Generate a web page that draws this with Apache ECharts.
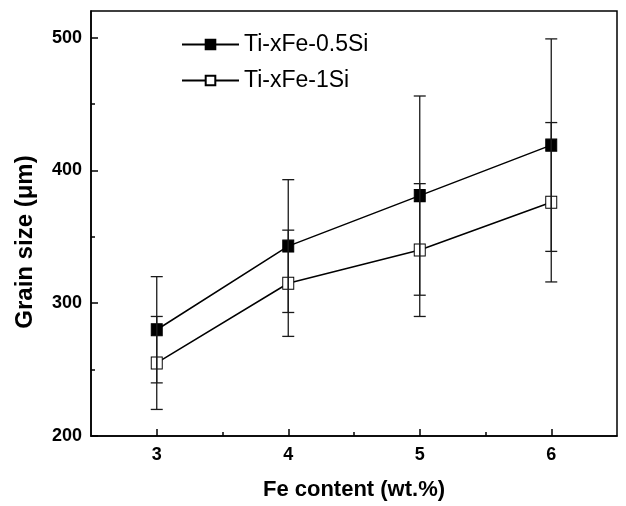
<!DOCTYPE html>
<html>
<head>
<meta charset="utf-8">
<script src="https://cdn.jsdelivr.net/npm/echarts@6/dist/echarts.min.js"></script>
<style>
  html, body { margin: 0; padding: 0; background: #fff; }
  #chart { width: 626px; height: 506px; }
</style>
</head>
<body>
<div id="chart"></div>
<script>
// Fe content (wt.%) on the x axis
const feContent = [3, 4, 5, 6];

// Mean grain size (µm) and error half-widths for each alloy
const series05Si = [280, 343, 381, 419];
const err05Si = [40, 50, 75, 80];
const series1Si = [255, 315, 340, 376];
const err1Si = [35, 40, 50, 60];

const seriesNames = ['Ti-xFe-0.5Si', 'Ti-xFe-1Si'];

// Tick positions
const xMajorTicks = [3, 4, 5, 6];
const xMinorTicks = [3.5, 4.5, 5.5];
const yMajorTicks = [200, 300, 400, 500];
const yMinorTicks = [250, 350, 450];

const FONT = '"Liberation Sans", Arial, Helvetica, sans-serif';

const chart = echarts.init(document.getElementById('chart'), null, { renderer: 'canvas' });

function pairs(xs, ys) {
  return xs.map((x, i) => [x, ys[i]]);
}
function errRows(xs, ys, es) {
  return xs.map((x, i) => [x, ys[i] - es[i], ys[i] + es[i]]);
}

// Vertical error bar with horizontal caps
function renderErrorBar(params, api) {
  const x = api.value(0);
  const lo = api.coord([x, api.value(1)]);
  const hi = api.coord([x, api.value(2)]);
  const half = 6;
  const style = { stroke: '#1a1a1a', lineWidth: 1.3 };
  return {
    type: 'group',
    children: [
      { type: 'line', shape: { x1: lo[0], y1: lo[1], x2: hi[0], y2: hi[1] }, style },
      { type: 'line', shape: { x1: lo[0] - half, y1: lo[1], x2: lo[0] + half, y2: lo[1] }, style },
      { type: 'line', shape: { x1: hi[0] - half, y1: hi[1], x2: hi[0] + half, y2: hi[1] }, style }
    ]
  };
}

const axisLineStyle = { color: '#000', width: 1.5 };
const labelStyle = { color: '#000', fontFamily: FONT, fontWeight: 'bold', fontSize: 18 };

const option = {
  backgroundColor: '#fff',
  animation: false,
  grid: {
    left: 91, right: 9, top: 11, bottom: 70,
    show: true, borderColor: '#000', borderWidth: 1.5, backgroundColor: 'transparent'
  },
  legend: {
    data: seriesNames,
    orient: 'vertical',
    left: 181,
    top: 32,
    padding: 0,
    itemWidth: 57,
    itemHeight: 12,
    itemGap: 11,
    textStyle: { color: '#000', fontFamily: FONT, fontSize: 23, lineHeight: 25 }
  },
  xAxis: [
    {
      type: 'value', min: 2.5, max: 6.5,
      axisLine: { show: true, onZero: false, lineStyle: axisLineStyle },
      axisTick: { show: true, inside: true, length: 7, lineStyle: { color: '#000', width: 1.5 }, customValues: xMajorTicks },
      axisLabel: { ...labelStyle, margin: 10, customValues: xMajorTicks },
      splitLine: { show: false },
      name: 'Fe content (wt.%)',
      nameLocation: 'middle',
      nameGap: 43,
      nameTextStyle: { color: '#000', fontFamily: FONT, fontWeight: 'bold', fontSize: 22 }
    },
    {
      type: 'value', min: 2.5, max: 6.5, position: 'bottom',
      axisLine: { show: false },
      axisTick: { show: true, inside: true, length: 4, lineStyle: { color: '#000', width: 1.5 }, customValues: xMinorTicks },
      axisLabel: { show: false },
      splitLine: { show: false }
    }
  ],
  yAxis: [
    {
      type: 'value', min: 200, max: 520,
      axisLine: { show: true, onZero: false, lineStyle: axisLineStyle },
      axisTick: { show: true, inside: true, length: 7, lineStyle: { color: '#000', width: 1.5 }, customValues: yMajorTicks },
      axisLabel: { ...labelStyle, margin: 9, customValues: yMajorTicks },
      splitLine: { show: false },
      name: 'Grain size (μm)',
      nameLocation: 'middle',
      nameGap: 54,
      nameRotate: 90,
      nameTextStyle: { color: '#000', fontFamily: FONT, fontWeight: 'bold', fontSize: 24, padding: [0, 37, 0, 0] }
    },
    {
      type: 'value', min: 200, max: 520, position: 'left',
      axisLine: { show: false },
      axisTick: { show: true, inside: true, length: 4, lineStyle: { color: '#000', width: 1.5 }, customValues: yMinorTicks },
      axisLabel: { show: false },
      splitLine: { show: false }
    }
  ],
  series: [
    {
      name: seriesNames[0],
      type: 'line',
      data: pairs(feContent, series05Si),
      symbol: 'rect',
      symbolSize: [11, 12],
      lineStyle: { color: '#000', width: 1.5 },
      itemStyle: { color: '#000', borderColor: '#000', borderWidth: 1 },
      z: 3
    },
    {
      name: seriesNames[1],
      type: 'line',
      data: pairs(feContent, series1Si),
      symbol: 'rect',
      symbolSize: [11, 12],
      lineStyle: { color: '#000', width: 1.5 },
      itemStyle: { color: '#fff', borderColor: '#000', borderWidth: 1 },
      z: 3
    },
    {
      type: 'custom',
      renderItem: renderErrorBar,
      data: errRows(feContent, series05Si, err05Si),
      encode: { x: 0, y: [1, 2] },
      z: 4,
      silent: true
    },
    {
      type: 'custom',
      renderItem: renderErrorBar,
      data: errRows(feContent, series1Si, err1Si),
      encode: { x: 0, y: [1, 2] },
      z: 4,
      silent: true
    }
  ]
};

chart.setOption(option);
</script>
</body>
</html>
